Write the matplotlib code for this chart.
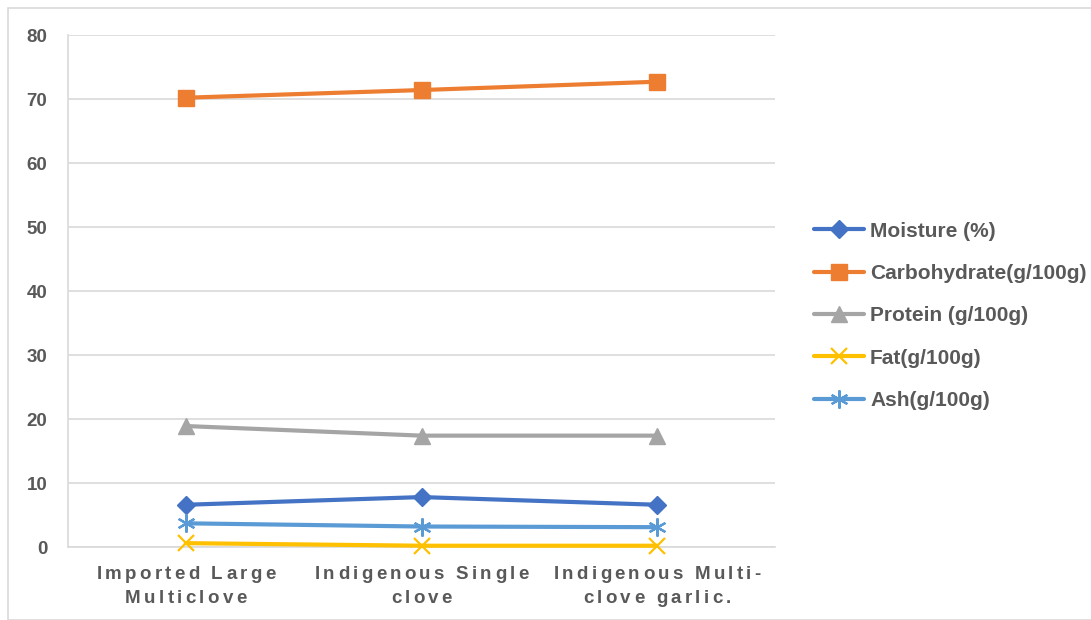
import matplotlib
matplotlib.use("Agg")
import matplotlib.pyplot as plt
import matplotlib.transforms as mtransforms
from matplotlib.font_manager import FontProperties
from matplotlib.patches import Rectangle

categories = ["Imported Large\nMulticlove", "Indigenous Single\nclove", "Indigenous Multi-\nclove garlic."]
moisture = [6.6, 7.8, 6.6]
carbohydrate = [70.2, 71.4, 72.7]
protein = [18.9, 17.4, 17.4]
fat = [0.6, 0.2, 0.2]
ash = [3.7, 3.2, 3.1]
series_names = ["Moisture (%)", "Carbohydrate(g/100g)", "Protein (g/100g)", "Fat(g/100g)", "Ash(g/100g)"]
yticks = [0, 10, 20, 30, 40, 50, 60, 70, 80]

plt.rcParams['font.family'] = ['Liberation Sans', 'DejaVu Sans']
fig = plt.figure(figsize=(10.91, 6.2), dpi=100)
W, H = 1091, 620
ax = fig.add_axes([68 / W, 1 - 547 / H, (775 - 68) / W, (547 - 35) / H])

x = list(range(len(categories)))
styles = [
    (moisture, "#4472C4", "D", 9, None),
    (carbohydrate, "#ED7D31", "s", 11, None),
    (protein, "#A5A5A5", "^", 11, None),
    (fat, "#FFC000", "x", 11, 1.6),
    (ash, "#5B9BD5", (6, 2, 0), 13, 1.6),
]
for (vals, col, mk, ms, mew), name in zip(styles, series_names):
    kw = dict(color=col, lw=3, marker=mk, markersize=ms, label=name,
              solid_capstyle='round', clip_on=False, zorder=3)
    if mew is not None:
        kw['markeredgewidth'] = mew
    ax.plot(x, vals, **kw)

ax.set_xlim(-0.5, 2.5)
ax.set_ylim(0, 80)
ax.set_yticks(yticks)
ax.set_xticks(x)
ax.set_xticklabels([])
ax.tick_params(axis='y', labelsize=13.5, colors='#595959', length=0, pad=15)
ax.tick_params(axis='x', length=0)
for lbl in ax.get_yticklabels():
    lbl.set_fontweight('bold')
ax.grid(axis='y', color='#D9D9D9', lw=1.2)
ax.set_axisbelow(True)
for s in ['top', 'right']:
    ax.spines[s].set_visible(False)
for s in ['left', 'bottom']:
    ax.spines[s].set_color('#D9D9D9')
    ax.spines[s].set_linewidth(1.2)

# letter-spaced category labels
renderer = fig.canvas.get_renderer()
fp = FontProperties(family='Liberation Sans', weight='bold', size=13.5)
spacing_px = 3.3
baselines_px = [32, 56]
base_tr = mtransforms.blended_transform_factory(ax.transData, ax.transAxes)
for xi, cat in zip(x, categories):
    for line, by in zip(cat.split("\n"), baselines_px):
        widths = [renderer.get_text_width_height_descent(ch if ch != " " else "a", fp, ismath=False)[0]
                  * (0.5 if ch == " " else 1.0) for ch in line]
        total = sum(widths) + spacing_px * (len(line) - 1)
        pos = -total / 2
        for ch, w in zip(line, widths):
            if ch != " ":
                tr = base_tr + mtransforms.ScaledTranslation(pos / 100, -by / 100, fig.dpi_scale_trans)
                ax.text(xi, 0, ch, transform=tr, fontproperties=fp, color='#595959',
                        ha='left', va='baseline', clip_on=False)
            pos += w + spacing_px

leg = fig.legend(loc='upper left', bbox_to_anchor=(795 / W, 1 - 203 / H), frameon=False,
                 prop={'family': 'Liberation Sans', 'size': 15, 'weight': 'bold'},
                 labelspacing=1.12, handlelength=2.4, handletextpad=0.3, labelcolor='#595959')
for h in leg.get_lines():
    h.set_linewidth(3)

fig.patches.append(Rectangle((8 / W, 0), 1, 1 - 8 / H, transform=fig.transFigure,
                             fill=False, edgecolor='#D9D9D9', lw=1.2))
fig.savefig("out.png", dpi=100)
